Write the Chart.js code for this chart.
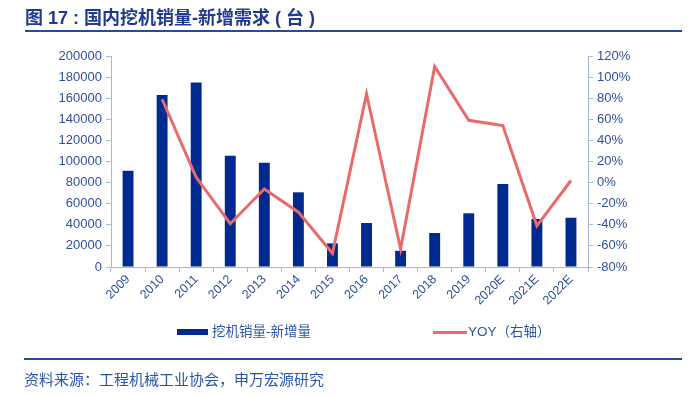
<!DOCTYPE html>
<html>
<head>
<meta charset="utf-8">
<script src="https://cdn.jsdelivr.net/npm/chart.js@4.4.0/dist/chart.umd.min.js"></script>
<style>
  html, body { margin: 0; padding: 0; background: #fff; }
  body { width: 692px; height: 397px; position: relative; overflow: hidden;
         font-family: "Liberation Sans", "Noto Sans CJK SC", sans-serif; }
  #title { position: absolute; left: 25px; top: 3px; font-size: 18px; font-weight: bold;
           color: #1f3a8f; font-family: "Liberation Sans", "Noto Sans CJK SC", sans-serif; white-space: nowrap; }
  #titleLine { position: absolute; left: 25px; right: 10px; top: 30px; height: 2px; background: #2a4a9e; }
  #footLine { position: absolute; left: 24px; right: 10px; top: 358px; height: 2px; background: #2a4a9e; }
  #foot { position: absolute; left: 24px; top: 368px; font-size: 15px; color: #2a55a8; white-space: nowrap; }
  #wrap { position: absolute; left: 0; top: 0; width: 692px; height: 397px; }
  .leg { position: absolute; top: 320px; font-size: 13.5px; color: #2a55a8; white-space: nowrap; }
  .sw { display: inline-block; vertical-align: middle; margin-right: 4px; }
</style>
</head>
<body>
<div id="wrap"><canvas id="myChart" width="692" height="397"></canvas></div>
<div id="title">图 17 : 国内挖机销量-新增需求 ( 台 )</div>
<div id="titleLine"></div>
<div class="leg" style="left:177px"><span class="sw" style="width:31px;height:6px;background:#002a8f"></span>挖机销量-新增量</div>
<div class="leg" style="left:433px"><span class="sw" style="width:34px;height:3px;background:#e86a6a;margin-right:1px"></span>YOY（右轴）</div>
<div id="footLine"></div>
<div id="foot">资料来源：工程机械工业协会，申万宏源研究</div>
<script>
// catégories et séries
const years = ['2009', '2010', '2011', '2012', '2013', '2014', '2015', '2016', '2017', '2018', '2019', '2020E', '2021E', '2022E'];
const sales = [91300, 163000, 175000, 105500, 98900, 70800, 22400, 41700, 15400, 32200, 50900, 78700, 45500, 46700];
const yoy = [null, 79, 5, -39, -6, -28, -67, 84, -63, 110, 59, 54, -41, 2];

const axisColor = '#a9b7d6';
const tickColor = '#2f4f9e';
const tickFont = { family: '"Liberation Sans", Arial, sans-serif', size: 13 };

let ctx = document.getElementById('myChart').getContext('2d');
new Chart(ctx, {
    type: 'bar',
    data: {
        labels: years,
        datasets: [{
            type: 'line',
            label: 'YOY（右轴）',
            data: yoy,
            yAxisID: 'y1',
            borderColor: '#e86a6a',
            borderWidth: 3,
            pointRadius: 0,
            tension: 0,
            fill: false,
            order: 0
        }, {
            label: '挖机销量-新增量',
            data: sales,
            yAxisID: 'y',
            backgroundColor: '#002a8f',
            barPercentage: 0.32,
            categoryPercentage: 1,
            order: 1
        }]
    },
    options: {
        responsive: false,
        animation: false,
        layout: { padding: { top: 56, left: 0, right: 0, bottom: 0 } },
        plugins: { legend: { display: false }, tooltip: { enabled: false } },
        scales: {
            x: {
                afterFit: s => { s.height = 130; },
                grid: { drawOnChartArea: false, tickLength: 5, color: axisColor, offset: true },
                border: { color: axisColor },
                ticks: { color: tickColor, font: { family: tickFont.family, size: 12.5 }, minRotation: 45, maxRotation: 45, padding: 0 }
            },
            y: {
                position: 'left',
                min: 0,
                max: 200000,
                afterFit: s => { s.width = 111; },
                grid: { drawOnChartArea: false, tickLength: 5, color: axisColor },
                border: { color: axisColor },
                ticks: { stepSize: 20000, color: tickColor, font: tickFont, padding: 4, callback: v => String(v) }
            },
            y1: {
                position: 'right',
                min: -80,
                max: 120,
                afterFit: s => { s.width = 104; },
                grid: { drawOnChartArea: false, tickLength: 5, color: axisColor },
                border: { color: axisColor },
                ticks: { stepSize: 20, color: tickColor, font: tickFont, padding: 4, callback: v => v + '%' }
            }
        }
    }
});
</script>
</body>
</html>
